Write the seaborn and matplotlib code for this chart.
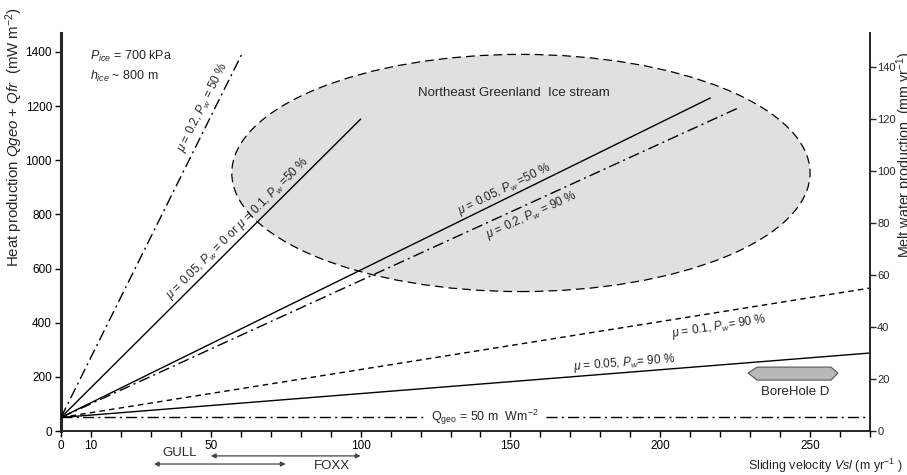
import numpy as np
import pandas as pd
import matplotlib
matplotlib.use("Agg")
import matplotlib.pyplot as plt
import seaborn as sns
from matplotlib.patches import Ellipse, Polygon

# friction lines, all starting at Qgeo = 50
start_x, start_y = 0, 50
line_names = ["mu02_pw50", "mu005_pw0", "mu005_pw50", "mu02_pw90", "mu01_pw90", "mu005_pw90"]
end_x = [60.7, 100, 216.7, 226, 270, 270]
end_y = [1400, 1152, 1230, 1193, 528, 288]
line_styles = ["dashdot", "solid", "solid", "dashdot", "dashed", "solid"]

qgeo = 50
qgeo_segments = [(0, 121), (162, 270)]

# Northeast Greenland ice stream envelope
ngis_center = (153.5, 953)
ngis_width, ngis_height = 193, 876

# borehole D range
bh_x = [229.3, 232.3, 257.0, 259.3, 257.0, 232.3]
bh_y = [214, 236, 236, 214, 188, 188]

# velocity ranges below the axis
gull_range = (31, 75)
foxx_range = (50, 100)

xticks = np.arange(0, 271, 10)
xtick_labels = ["0", "10", "", "", "", "50", "", "", "", "", "100", "", "", "", "", "150",
                "", "", "", "", "200", "", "", "", "", "250", "", ""]
yticks = [0, 200, 400, 600, 800, 1000, 1200, 1400]
ytick_right = [0, 20, 40, 60, 80, 100, 120, 140]

sns.set_style("ticks")
plt.rcParams["font.family"] = ["Liberation Sans", "DejaVu Sans"]
plt.rcParams["mathtext.fontset"] = "custom"
plt.rcParams["mathtext.rm"] = "Liberation Sans"
plt.rcParams["mathtext.it"] = "Liberation Sans:italic"
plt.rcParams["mathtext.bf"] = "Liberation Sans:bold"

fig = plt.figure(figsize=(9.07, 4.75), dpi=100)
ax = fig.add_axes([61 / 907, 1 - 431 / 475, (870 - 61) / 907, (431 - 33) / 475])

ell = Ellipse(ngis_center, ngis_width, ngis_height, facecolor="#e0e0e0", edgecolor="black",
              lw=0.9, linestyle=(0, (7, 4)), zorder=1)
ax.add_patch(ell)

dash_styles = {"solid": "-", "dashed": (0, (4, 3)), "dashdot": (0, (8, 3, 1.5, 3))}
for name, ex, ey, ls in zip(line_names, end_x, end_y, line_styles):
    df = pd.DataFrame({"v": [start_x, ex], "q": [start_y, ey]})
    sns.lineplot(data=df, x="v", y="q", ax=ax, color="black", lw=1.0,
                 linestyle=dash_styles[ls], zorder=3)

for x0, x1 in qgeo_segments:
    df = pd.DataFrame({"v": [x0, x1], "q": [qgeo, qgeo]})
    sns.lineplot(data=df, x="v", y="q", ax=ax, color="black", lw=1.0,
                 linestyle=(0, (8, 3, 1.5, 3)), zorder=3)

ax.add_patch(Polygon(list(zip(bh_x, bh_y)), closed=True, facecolor="#b8b8b8",
                     edgecolor="#555555", lw=0.8, zorder=3))
ax.text(245, 144, "BoreHole D", ha="center", va="center", fontsize=9.5)

ax.set_xlim(0, 270)
ax.set_ylim(0, 1470)
ax.set_xticks(xticks)
ax.set_xticklabels(xtick_labels)
ax.set_yticks(yticks)
ax.tick_params(axis="both", labelsize=8.5, length=4.5, width=1.0, pad=2, colors="black")
ax.set_xlabel("")
ax.set_ylabel("")
for side in ["top", "right"]:
    ax.spines[side].set_visible(False)
ax.spines["left"].set_linewidth(2.2)
ax.spines["bottom"].set_linewidth(1.4)

ax2 = ax.twinx()
ax2.set_ylim(0, 153)
ax2.set_yticks(ytick_right)
ax2.tick_params(axis="y", labelsize=8, length=4, width=1.0, pad=1.2)
for side in ["top", "left", "bottom"]:
    ax2.spines[side].set_visible(False)
ax2.spines["right"].set_linewidth(1.4)

# annotations along the lines
lab_kw = dict(fontsize=8.5, ha="center", va="center", rotation_mode="anchor",
              transform_rotates_text=True, zorder=4)
labels = [
    (47.4, 1195, 0, r"$\mu$ = 0.2, $\mathit{P}_{\mathit{w}}$ = 50 %"),
    (59, 750, 1, r"$\mu$ = 0.05, $\mathit{P}_{\mathit{w}}$ = 0 or $\mu$ = 0.1, $\mathit{P}_{\mathit{w}}$ =50 %"),
    (148, 894, 2, r"$\mu$ = 0.05, $\mathit{P}_{\mathit{w}}$ =50 %"),
    (157, 798, 3, r"$\mu$ = 0.2, $\mathit{P}_{\mathit{w}}$ = 90 %"),
    (219.7, 384, 4, r"$\mu$ = 0.1, $\mathit{P}_{\mathit{w}}$= 90 %"),
    (188, 251, 5, r"$\mu$ = 0.05, $\mathit{P}_{\mathit{w}}$= 90 %"),
]
for x, y, i, s in labels:
    slope = (end_y[i] - start_y) / (end_x[i] - start_x)
    ang = np.degrees(np.arctan(slope))
    ax.text(x, y, s, rotation=ang, **lab_kw)

ax.text(151.3, 1249, "Northeast Greenland  Ice stream", ha="center", va="center", fontsize=9.5)
ax.text(141.3, 52, r"Q$_{\mathrm{geo}}$ = 50 m  Wm$^{-2}$", ha="center", va="center", fontsize=9)
ax.text(9.7, 1382, r"$\mathit{P}_{\mathit{ice}}$ = 700 kPa", ha="left", va="center", fontsize=9)
ax.text(9.7, 1308, r"$\mathit{h}_{\mathit{ice}}$ ~ 800 m", ha="left", va="center", fontsize=9)

# velocity ranges
arr_kw = dict(arrowstyle="<|-|>", color="#444444", lw=0.9, mutation_scale=7,
              shrinkA=0, shrinkB=0)
ax.annotate("", xy=(gull_range[1], -122), xytext=(gull_range[0], -122),
            arrowprops=arr_kw, annotation_clip=False)
ax.annotate("", xy=(foxx_range[1], -92), xytext=(foxx_range[0], -92),
            arrowprops=arr_kw, annotation_clip=False)
ax.text(39.7, -81, "GULL", ha="center", va="center", fontsize=9.5, clip_on=False)
ax.text(90.3, -129, "FOXX", ha="center", va="center", fontsize=9.5, clip_on=False)

fig.text(903 / 907, 1 - 466 / 475, r"Sliding velocity $\mathit{Vsl}$ (m yr$^{-1}$ )",
         ha="right", va="center", fontsize=9)
fig.text(14 / 907, 1 - 267 / 475, r"Heat production $\mathit{Qgeo}$ + $\mathit{Qfr}$  (mW m$^{-2}$)",
         rotation=90, ha="center", va="bottom", fontsize=10.8)
fig.text(894 / 907, 1 - 258 / 475, r"Melt water production  (mm yr$^{-1}$)",
         rotation=90, ha="left", va="bottom", fontsize=10.3)

fig.savefig("out.png", dpi=100)
